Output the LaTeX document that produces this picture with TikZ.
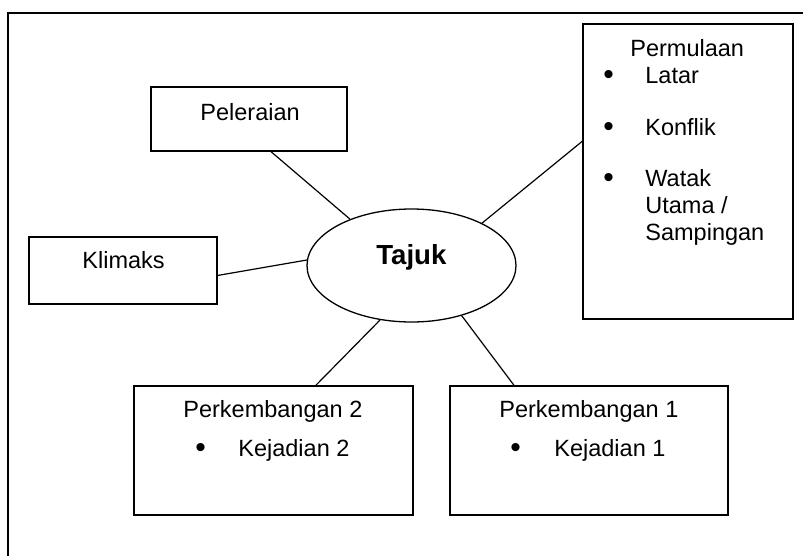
\documentclass[tikz,border=0pt]{standalone}
\usepackage{fontspec}
\setmainfont{Liberation Sans}
\usetikzlibrary{shapes}

\begin{document}
\begin{tikzpicture}[x=0.5pt, y=-0.5pt]%
  \tikzset{kotak/.style={draw, rectangle, line width=0.65pt, inner sep=0pt}}
  \tikzset{garis/.style={draw, line width=0.6pt}}
  \tikzstyle{every node}=[font=\fontsize{11.75}{13.5}\selectfont]
  \tikzstyle{teks}=[anchor=west, inner sep=0pt, text height=8.4pt, text depth=0pt]
  \tikzstyle{titik}=[teks, font=\fontsize{15}{15}\selectfont, yshift=-0.4pt]

  \useasboundingbox (0,0) rectangle (803,556);
  \draw[line width=0.9pt] (8,556) |- (803,12.7);

  \node[kotak, minimum width=105pt, minimum height=147.5pt] at (688,171.5) (Permulaan) {};
  \node[kotak, minimum width=98pt, minimum height=32pt] at (249,119) (Peleraian) {};
  \node[kotak, minimum width=94pt, minimum height=33.5pt] at (123,270.5) (Klimaks) {};
  \node[draw, ellipse, line width=0.65pt, minimum width=104.5pt, minimum height=56.5pt] at (411.5,265.5) (Tajuk) {};
  \node[kotak, minimum width=139.5pt, minimum height=64.5pt] at (273.5,450.5) (Kembang2) {};
  \node[kotak, minimum width=139pt, minimum height=64.5pt] at (589,450.5) (Kembang1) {};

  % teks dalam kotak
  \node[teks] at (630,48) (tPermulaan) {Permulaan};
  \node[titik] at (603,75) (bLatar) {•};
  \node[teks] at (645,75) (tLatar) {Latar};
  \node[titik] at (603,127) (bKonflik) {•};
  \node[teks] at (645,127) (tKonflik) {Konflik};
  \node[titik] at (603,178) (bWatak) {•};
  \node[teks] at (645,178) (tWatak) {Watak};
  \node[teks] at (645,205) (tUtama) {Utama /};
  \node[teks] at (645,232) (tSampingan) {Sampingan};

  \node[teks] at (200,112) (tPeleraian) {Peleraian};
  \node[teks] at (82,260) (tKlimaks) {Klimaks};
  \node[teks, text height=9.9pt, font=\fontsize{13.8}{16}\selectfont\bfseries] at (376,255) (tTajuk) {Tajuk};

  \node[teks] at (183,409) (tKembang2) {Perkembangan 2};
  \node[titik] at (195,448) (bKejadian2) {•};
  \node[teks] at (238,448) (tKejadian2) {Kejadian 2};
  \node[teks] at (499,409) (tKembang1) {Perkembangan 1};
  \node[titik] at (510,448) (bKejadian1) {•};
  \node[teks] at (554,448) (tKejadian1) {Kejadian 1};

  % penghubung
  \path[garis] (Peleraian.-56.7) -- (Tajuk.143.8);
  \path[garis] (Klimaks.-3.35) -- (Tajuk.177.5);
  \path[garis] (Permulaan.164.3) -- (Tajuk.31.5);
  \path[garis] (Tajuk.-120) -- (Kembang2.57.2);
  \path[garis] (Tajuk.-45.6) -- (Kembang1.139.3);
\end{tikzpicture}
\end{document}
